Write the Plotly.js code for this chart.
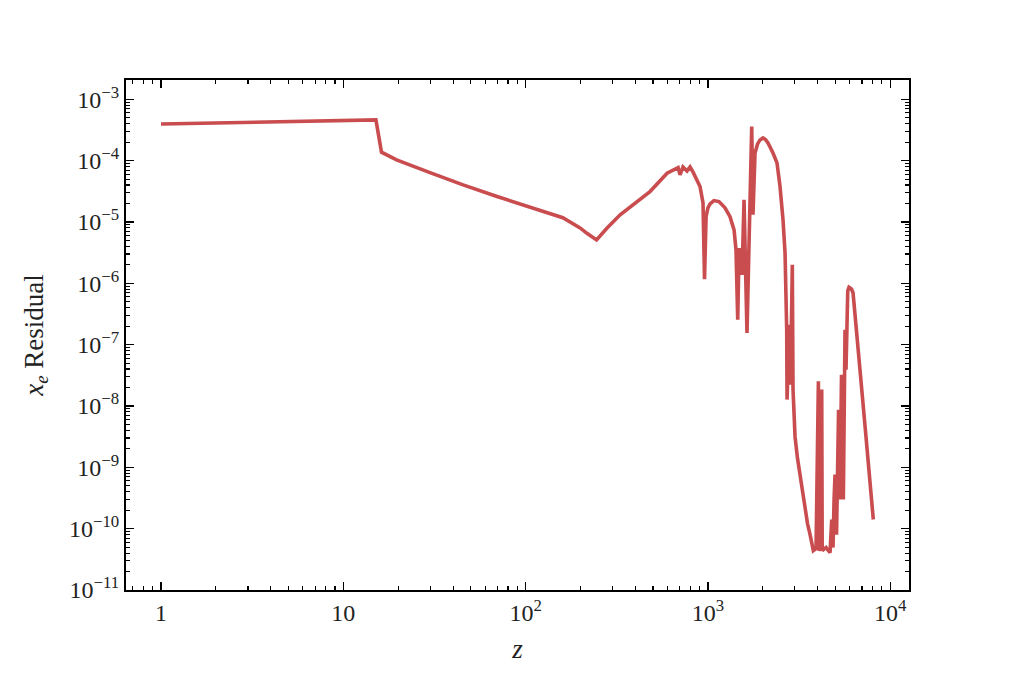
<!DOCTYPE html>
<html>
<head>
<meta charset="utf-8">
<script src="https://cdn.plot.ly/plotly-3.0.1.min.js"></script>
<style>html,body{margin:0;padding:0;background:#fff;}#chart{width:1011px;height:674px;}</style>
</head>
<body>
<div id="chart"></div>
<script>
const z = [1, 15.1, 16.2, 19.6, 29.9, 45.4, 69.7, 105.7, 160, 199, 216, 245, 279, 330, 388, 481, 597, 686, 703, 730, 768, 798, 828, 871, 905, 940, 958, 977, 1000, 1027, 1079, 1150, 1241, 1322, 1391, 1426, 1457, 1482, 1510, 1539, 1578, 1638, 1739, 1767, 1813, 1870, 1930, 2005, 2070, 2136, 2275, 2393, 2486, 2582, 2649, 2705, 2717, 2797, 2838, 2904, 2930, 3005, 3100, 3202, 3300, 3411, 3520, 3633, 3787, 3919, 4036, 4058, 4121, 4209, 4236, 4445, 4616, 4677, 4777, 4856, 4920, 4981, 5076, 5140, 5207, 5307, 5405, 5470, 5533, 5650, 5721, 5848, 5940, 6024, 6130, 6252, 6470, 6825, 7278, 7747, 8077];
const residual = [3.96e-4, 4.6e-4, 1.37e-4, 1.03e-4, 6.38e-5, 4.02e-5, 2.6e-5, 1.72e-5, 1.17e-5, 8.0e-6, 6.58e-6, 5.1e-6, 7.9e-6, 1.31e-5, 1.9e-5, 3.13e-5, 6.24e-5, 7.69e-5, 5.85e-5, 7.88e-5, 6.79e-5, 7.88e-5, 6.55e-5, 4.85e-5, 3.78e-5, 2.05e-5, 1.17e-6, 1.22e-5, 1.7e-5, 1.97e-5, 2.23e-5, 2.15e-5, 1.70e-5, 1.22e-5, 7.43e-6, 3.52e-6, 2.55e-7, 3.74e-6, 2.24e-6, 1.37e-6, 2.29e-5, 1.55e-7, 3.58e-4, 1.31e-5, 1.33e-4, 1.85e-4, 2.17e-4, 2.34e-4, 2.2e-4, 1.94e-4, 1.33e-4, 9.18e-5, 3.78e-5, 1.08e-5, 3.14e-6, 1.75e-7, 1.27e-8, 2.11e-7, 2.22e-8, 2.0e-6, 1.85e-8, 3.16e-9, 1.4e-9, 7.06e-10, 3.9e-10, 2.05e-10, 1.2e-10, 8.0e-11, 4.4e-11, 4.74e-11, 2.52e-8, 4.4e-11, 4.74e-11, 1.85e-8, 4.4e-11, 4.92e-11, 4.4e-11, 4.08e-11, 1.41e-10, 4.92e-11, 3.0e-10, 7.6e-10, 8.0e-11, 1.5e-9, 8.7e-9, 2.98e-10, 3.24e-8, 1.2e-9, 2.98e-10, 1.75e-7, 3.9e-8, 7.55e-7, 8.6e-7, 8.36e-7, 8.0e-7, 7.0e-7, 2.55e-7, 3.9e-8, 4.66e-9, 5.64e-10, 1.41e-10];

const xTickVals = [1, 10, 100, 1000, 10000];
const xTickText = ['1', '10', '10<sup>2</sup>', '10<sup>3</sup>', '10<sup>4</sup>'];
const yTickVals = [1e-3, 1e-4, 1e-5, 1e-6, 1e-7, 1e-8, 1e-9, 1e-10, 1e-11];
const yTickText = ['10<sup>\u22123</sup>', '10<sup>\u22124</sup>', '10<sup>\u22125</sup>', '10<sup>\u22126</sup>', '10<sup>\u22127</sup>', '10<sup>\u22128</sup>', '10<sup>\u22129</sup>', '10<sup>\u221210</sup>', '10<sup>\u221211</sup>'];

const fontFam = '"Liberation Serif", "DejaVu Serif", serif';

const trace = {
  x: z, y: residual, type: 'scatter', mode: 'lines',
  line: {color: '#c94c4f', width: 3.6}, hoverinfo: 'skip'
};

const axisCommon = {
  type: 'log', showgrid: false, zeroline: false,
  showline: true, linecolor: '#000', linewidth: 2, mirror: 'allticks',
  ticks: 'inside', ticklen: 8, tickwidth: 1.4, tickcolor: '#000',
  tickfont: {family: fontFam, size: 24, color: '#222'},
  minor: {ticks: 'inside', ticklen: 4, tickwidth: 1.1, tickcolor: '#000', dtick: 'D1', showgrid: false}
};

const layout = {
  width: 1011, height: 674,
  margin: {l: 126, r: 102, t: 80, b: 84},
  paper_bgcolor: '#fff', plot_bgcolor: '#fff',
  showlegend: false,
  xaxis: Object.assign({}, axisCommon, {
    range: [-0.192, 4.103],
    tickmode: 'array', tickvals: xTickVals, ticktext: xTickText,
    title: {text: '<i>z</i>', font: {family: fontFam, size: 27, color: '#222'}, standoff: 14}
  }),
  yaxis: Object.assign({}, axisCommon, {
    range: [-11, -2.686],
    tickmode: 'array', tickvals: yTickVals, ticktext: yTickText,
    title: {text: '<i>x</i><sub><i>e</i></sub> Residual', font: {family: fontFam, size: 27, color: '#222'}, standoff: 18}
  })
};

Plotly.newPlot('chart', [trace], layout, {displayModeBar: false, staticPlot: true});
</script>
</body>
</html>
